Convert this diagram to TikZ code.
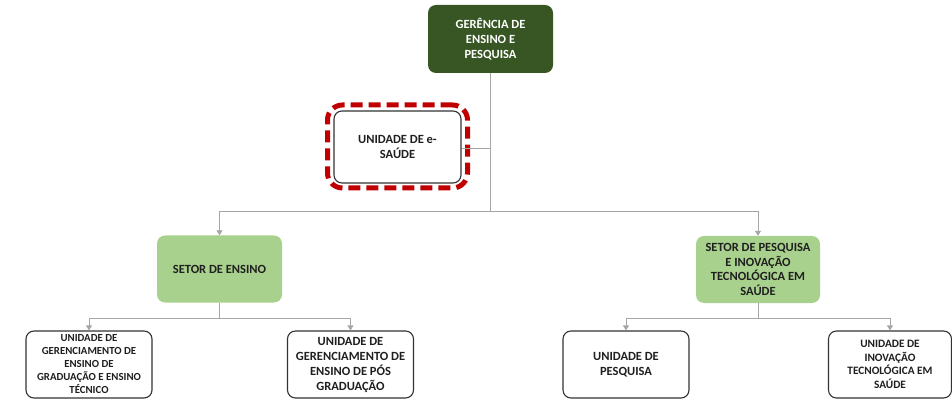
\documentclass[tikz,border=0pt]{standalone}
\usepackage{fontspec}
\setmainfont{Carlito}
\usetikzlibrary{arrows.meta}
\definecolor{darkg}{HTML}{375623}
\definecolor{lightg}{HTML}{A9D18E}
\definecolor{conn}{HTML}{A6A6A6}
\definecolor{redb}{HTML}{C00000}
\begin{document}
\begin{tikzpicture}[x=1pt,y=-1pt,
  box/.style={rounded corners=8pt, align=center, inner sep=2pt, font=\bfseries\fontsize{12.5}{15}\selectfont, text=black!88},
  topbox/.style={box, fill=darkg, text=white, minimum width=125pt, minimum height=68pt},
  midbox/.style={box, fill=lightg, minimum width=125pt, minimum height=67pt},
  unitbox/.style={box, draw=black!80, line width=1.1pt, fill=white, minimum width=126pt, minimum height=67pt},
  conline/.style={draw=conn, line width=0.9pt},
  conarrow/.style={conline, -{Triangle[length=5pt,width=6pt]}}
]
\useasboundingbox (0,0) rectangle (952,403);
\node[topbox] (top) at (490.5,39) {GERÊNCIA DE\\ENSINO E\\PESQUISA};
\node[draw=redb, line width=5pt, dash pattern=on 12pt off 6pt, rounded corners=15pt, minimum width=140pt, minimum height=83pt] (red) at (397.5,146.5) {};
\node[unitbox, minimum width=127pt, minimum height=72pt] (esaude) at (397.5,147) {UNIDADE DE e-\\SAÚDE};
\node[midbox] (ensino) at (219.5,269) {SETOR DE ENSINO};
\node[midbox, minimum width=124pt, font=\bfseries\fontsize{12.5}{14.5}\selectfont] (pesq) at (758,269.5) {SETOR DE PESQUISA\\E INOVAÇÃO\\TECNOLÓGICA EM\\SAÚDE};
\node[unitbox, font=\bfseries\fontsize{10.8}{13}\selectfont] (u1) at (89,364.5) {UNIDADE DE\\GERENCIAMENTO DE\\ENSINO DE\\GRADUAÇÃO E ENSINO\\TÉCNICO};
\node[unitbox] (u2) at (350.5,364.5) {UNIDADE DE\\GERENCIAMENTO DE\\ENSINO DE PÓS\\GRADUAÇÃO};
\node[unitbox] (u3) at (626,364.5) {UNIDADE DE\\PESQUISA};
\node[unitbox, font=\bfseries\fontsize{11.3}{13.5}\selectfont, minimum width=123pt] (u4) at (890,364.5) {UNIDADE DE\\INOVAÇÃO\\TECNOLÓGICA EM\\SAÚDE};
\coordinate (hub) at (490.5,211);
\coordinate (side) at (490.5,148);
\draw[conline] (top.south) -- (hub);
\draw[conline] (side) -- (esaude.east |- side);
\draw[conarrow] (hub) -| (ensino.north);
\draw[conarrow] (hub) -| (pesq.north);
\coordinate (h1) at (219.5,318);
\coordinate (h2) at (758,318);
\draw[conline] (ensino.south) -- (h1);
\draw[conarrow] (h1) -| (u1.north);
\draw[conarrow] (h1) -| (u2.north);
\draw[conline] (pesq.south) -- (h2);
\draw[conarrow] (h2) -| (u3.north);
\draw[conarrow] (h2) -| (u4.north);
\end{tikzpicture}
\end{document}
